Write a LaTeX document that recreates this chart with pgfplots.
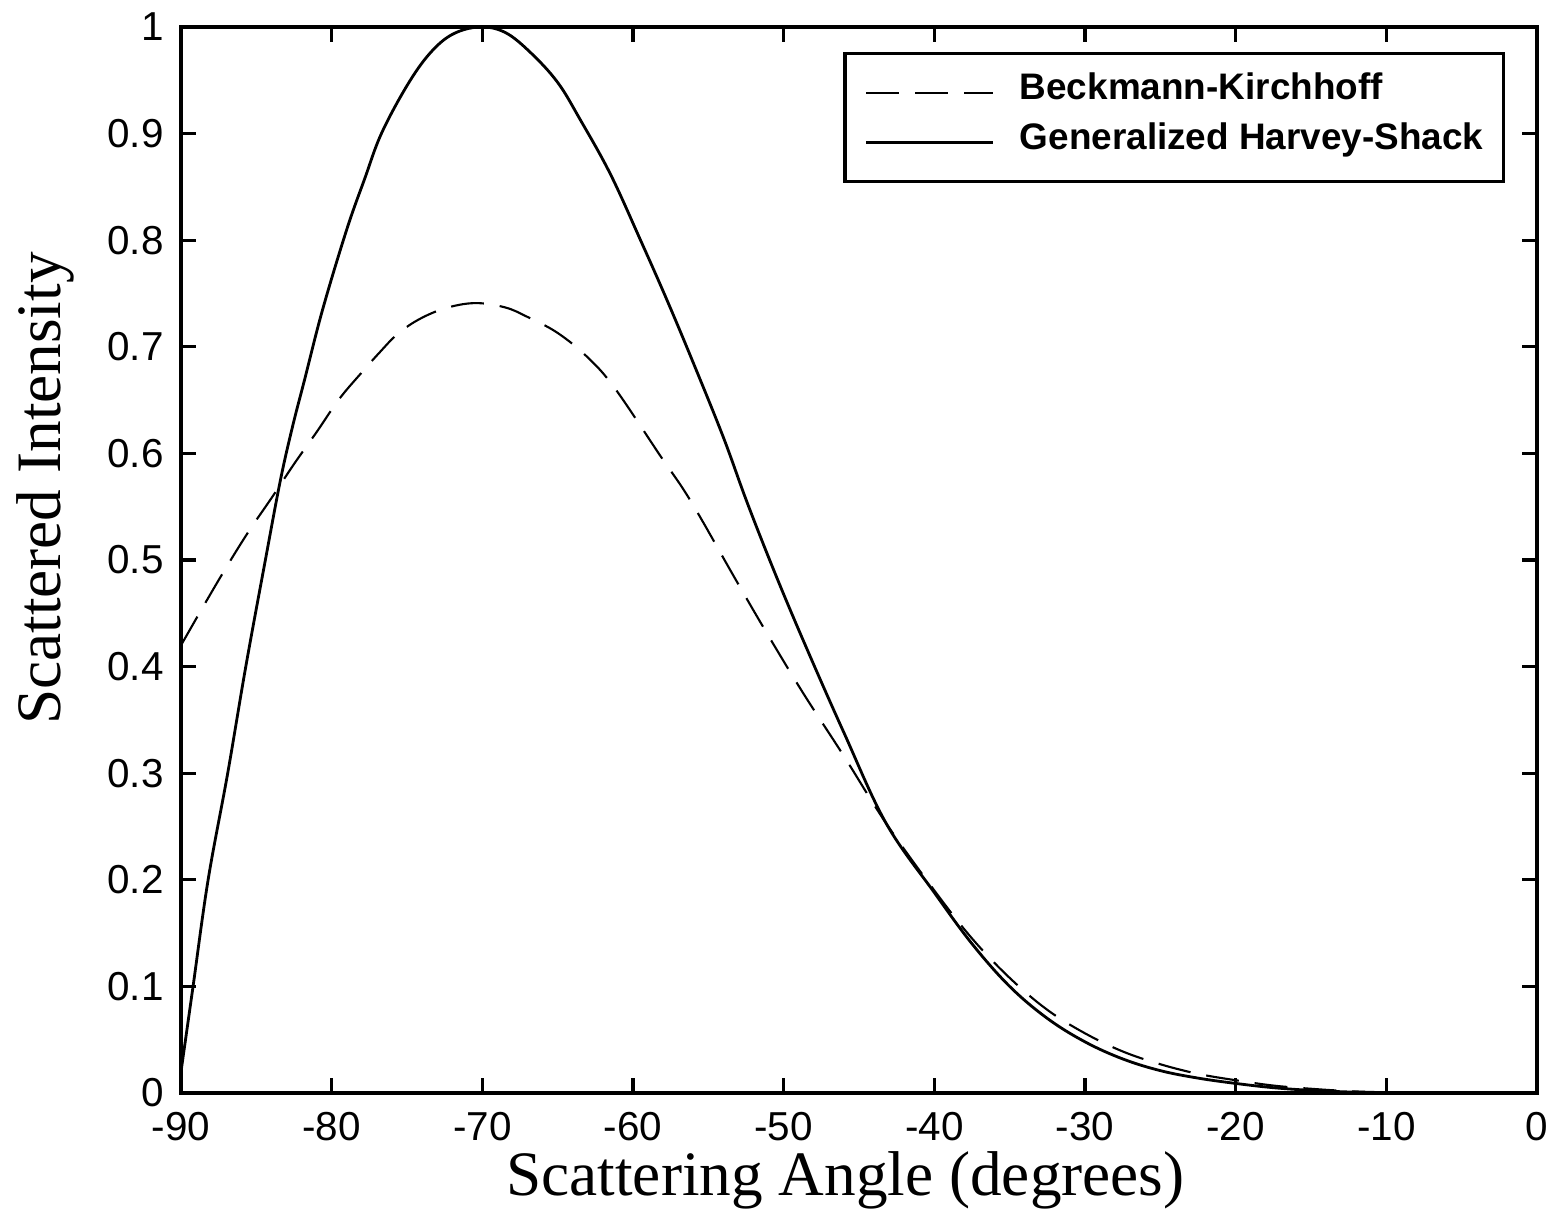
\documentclass[border=0pt]{standalone}
\usepackage{fontspec}
\setmainfont{Liberation Serif}
\setsansfont{Liberation Sans}
\usepackage{pgfplots}
\pgfplotsset{compat=1.18}
\usetikzlibrary{calc}

\begin{document}
\begin{tikzpicture}
\begin{axis}[
    scale only axis,
    width=13.56cm,
    height=10.66cm,
    xmin=-90, xmax=0,
    ymin=0, ymax=1,
    xtick={-90,-80,-70,-60,-50,-40,-30,-20,-10,0},
    ytick={0,0.1,0.2,0.3,0.4,0.5,0.6,0.7,0.8,0.9,1},
    tick align=inside,
    major tick length=0.15cm,
    axis line style={line width=0.9pt},
    every tick/.style={black,line width=0.9pt},
    /pgf/number format/assume math mode=true,
    tick label style={font=\fontsize{11.5}{13}\selectfont\sffamily},
    yticklabel style={/pgf/number format/fixed,/pgf/number format/precision=1,xshift=-0.05cm},
    xticklabel style={yshift=-0.065cm},
    xlabel={Scattering Angle (degrees)},
    ylabel={Scattered Intensity},
    label style={font=\fontsize{18}{20}\selectfont\rmfamily},
    xlabel style={at={(axis description cs:0.49,-0.0957)},anchor=base},
    ylabel style={at={(axis description cs:-0.0885,0.567)},anchor=base},
    legend style={at={(rel axis cs:0.9764,0.9765)},anchor=north east,
        draw=black,line width=0.9pt,inner xsep=0.2cm,inner ysep=0.14cm,
        font=\fontsize{10.5}{12}\selectfont\bfseries\sffamily,
        nodes={inner sep=0pt,text height=0.32cm,text depth=0.18cm},
        row sep=0pt,
        /tikz/every odd column/.append style={column sep=0.25cm}},
    legend cell align=left,
    legend image code/.code={\draw[#1] (0cm,0cm) -- (1.27cm,0cm);},
]

% Beckmann-Kirchhoff (dashed)
\addplot[black,line width=0.6pt,dash pattern=on 0.33cm off 0.16cm,smooth,tension=0.6] coordinates {
    (-90,0.420) (-88.5,0.457) (-87,0.493) (-85.5,0.527) (-84,0.558)
    (-82.5,0.590) (-81,0.620) (-79.5,0.651) (-78,0.676) (-76.8,0.695)
    (-75.7,0.711) (-74.3,0.725) (-72.5,0.736) (-70.5,0.741) (-68.5,0.737)
    (-67,0.728) (-65,0.713) (-63,0.690) (-61.2,0.661) (-58.2,0.598)
    (-56.2,0.556) (-53.2,0.482) (-51.1,0.431) (-48.7,0.375) (-46,0.316)
    (-43.2,0.253) (-40,0.190) (-37.5,0.145) (-35,0.108) (-32.5,0.078)
    (-30,0.056) (-27.5,0.039) (-25,0.027) (-22.5,0.018) (-20,0.012)
    (-17.5,0.007) (-15,0.004) (-12.5,0.0018) (-10,0.0007) (-5,0.0001) (0,0)
};
\addlegendentry{Beckmann-Kirchhoff}

% Generalized Harvey-Shack (solid)
\addplot[black,line width=0.8pt,smooth,tension=0.6] coordinates {
    (-90,0.02) (-89.2,0.10) (-88.2,0.20) (-86.9,0.30) (-85.7,0.40)
    (-84.4,0.50) (-83.4,0.575) (-82.6,0.625) (-81.8,0.669) (-80.6,0.735)
    (-79,0.810) (-77.8,0.858) (-76.7,0.900) (-75,0.945) (-73.5,0.975)
    (-72,0.993) (-70.2,1.000) (-68.5,0.995) (-66.8,0.976) (-65,0.948)
    (-63.5,0.913) (-61.5,0.862) (-59.5,0.800) (-57.75,0.744) (-56,0.685)
    (-54,0.615) (-52.4,0.553) (-50.5,0.485) (-48.5,0.418) (-46,0.338)
    (-43.2,0.253) (-40,0.188) (-37.5,0.140) (-35,0.100) (-32.5,0.070)
    (-30,0.048) (-27.5,0.032) (-25,0.021) (-22.5,0.014) (-20,0.009)
    (-17.5,0.005) (-15,0.0025) (-12.5,0.001) (-10,0.0003) (-5,0) (0,0)
};
\addlegendentry{Generalized Harvey-Shack}

\end{axis}
\pgfresetboundingbox
\path[use as bounding box] ($(current axis.south west)+(-1.81cm,-1.19cm)$)
    rectangle ($(current axis.north east)+(0.10cm,0.27cm)$);
\end{tikzpicture}
\end{document}
